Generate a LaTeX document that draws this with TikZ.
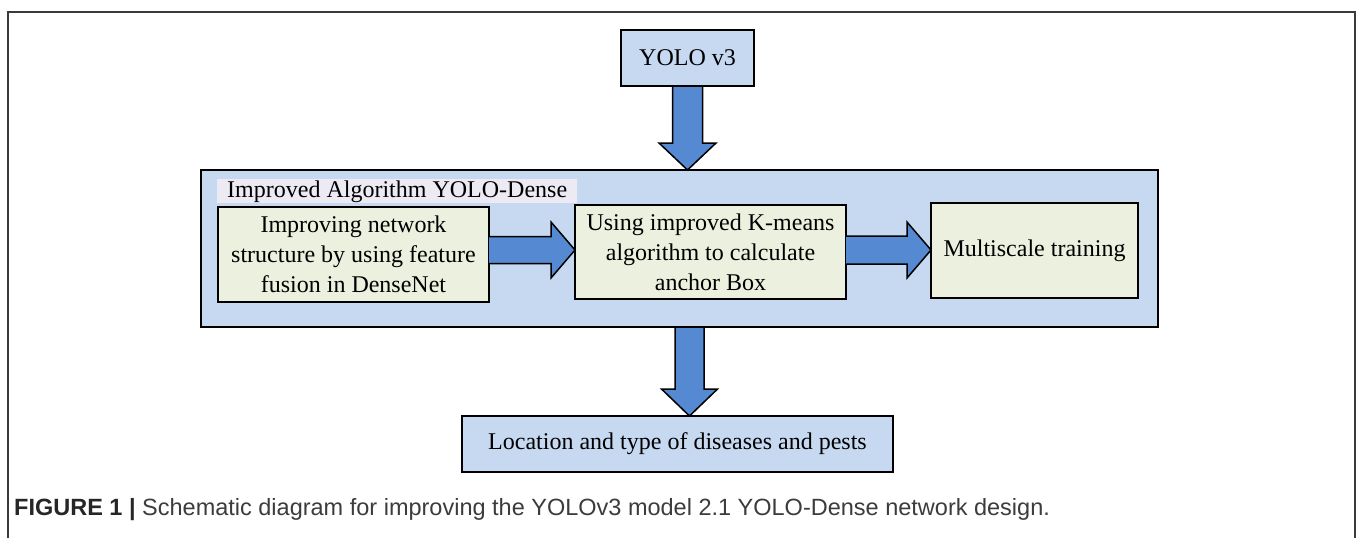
\documentclass[tikz,border=0pt]{standalone}
\usepackage{fontspec}
\setmainfont{Liberation Serif}
\newfontfamily\capfont{Liberation Sans}
\usetikzlibrary{calc}
\definecolor{contfill}{HTML}{C6D9F1}
\definecolor{boxfill}{HTML}{EBF1DE}
\definecolor{lavfill}{HTML}{EDEAF3}
\definecolor{arrfill}{HTML}{558AD3}
\definecolor{framegray}{HTML}{3A3A3A}
\definecolor{captext}{HTML}{3C3C3C}
\tikzset{
  bluebox/.style={draw=black, line width=1.6pt, fill=contfill, inner sep=0pt, outer sep=0pt, anchor=north west, align=center, font=\fontsize{24}{30}\selectfont},
  greenbox/.style={draw=black, line width=1.8pt, fill=boxfill, inner sep=0pt, outer sep=0pt, anchor=north west, align=center, font=\fontsize{24}{30}\selectfont},
  fatarrow/.style={draw=black, line width=1.5pt, fill=arrfill, line join=miter},
}
\begin{document}
\begin{tikzpicture}[x=1pt,y=-1pt]
\useasboundingbox (0,0) rectangle (1357,538);
\fill[white] (0,0) rectangle (1357,538);
\draw[framegray, line width=1.4pt] (8,538) -- (8,12) -- (1355,12) -- (1355,538);

\node[bluebox, minimum width=957pt, minimum height=157pt] (cont) at (201,170) {};
\node[anchor=north west, fill=lavfill, inner xsep=5pt, inner ysep=0pt, minimum height=24pt, minimum width=360pt, align=left, font=\fontsize{24}{30}\selectfont, text depth=5pt, text height=17pt] (title) at (217,179) {Improved Algorithm YOLO-Dense};

\node[bluebox, minimum width=133pt, minimum height=56pt] (yolo) at (621,30) {YOLO v3};
\node[greenbox, minimum width=271pt, minimum height=95pt] (b1) at (218,207) {Improving network\\structure by using feature\\fusion in DenseNet};
\node[greenbox, minimum width=271pt, minimum height=94pt] (b2) at (575,205) {Using improved K-means\\algorithm to calculate\\anchor Box};
\node[greenbox, minimum width=207pt, minimum height=95pt] (b3) at (931,203) {Multiscale training};
\node[bluebox, minimum width=431pt, minimum height=56pt] (bot) at (462,416) {Location and type of diseases and pests};

% arrow YOLO -> container
\coordinate (a1) at (yolo.south);
\draw[fatarrow] ($(a1)+(-15,0)$) -- ($(a1)+(15,0)$) -- ($(a1)+(15,57)$) -- ($(a1)+(28.5,57)$)
  -- (a1 |- cont.north) -- ($(a1)+(-28.5,57)$) -- ($(a1)+(-15,57)$) -- cycle;

% arrow b1 -> b2
\coordinate (a2) at ($(b1.east)+(0,-4.5)$);
\draw[fatarrow] ($(a2)+(0,-13.5)$) -- ($(a2)+(62,-13.5)$) -- ($(a2)+(62,-28)$) -- (b2.west |- a2)
  -- ($(a2)+(62,28)$) -- ($(a2)+(62,13.5)$) -- ($(a2)+(0,13.5)$);

% arrow b2 -> b3
\coordinate (a3) at ($(b2.east)+(0,-2)$);
\draw[fatarrow] ($(a3)+(0,-14)$) -- ($(a3)+(61,-14)$) -- ($(a3)+(61,-28)$) -- (b3.west |- a3)
  -- ($(a3)+(61,28)$) -- ($(a3)+(61,14)$) -- ($(a3)+(0,14)$);

% arrow container -> bottom
\coordinate (a4) at ($(cont.south)+(10,0)$);
\draw[fatarrow] ($(a4)+(-14.5,0)$) -- ($(a4)+(14.5,0)$) -- ($(a4)+(14.5,62)$) -- ($(a4)+(28,62)$)
  -- (a4 |- bot.north) -- ($(a4)+(-28,62)$) -- ($(a4)+(-14.5,62)$) -- cycle;

\node[anchor=base west, inner sep=0pt, text=captext, font=\capfont\fontsize{23.5}{26}\selectfont] (cap) at (14,515)
  {\textbf{\color{black!85}FIGURE 1 |} Schematic diagram for improving the YOLOv3 model 2.1 YOLO-Dense network design.};
\end{tikzpicture}
\end{document}
